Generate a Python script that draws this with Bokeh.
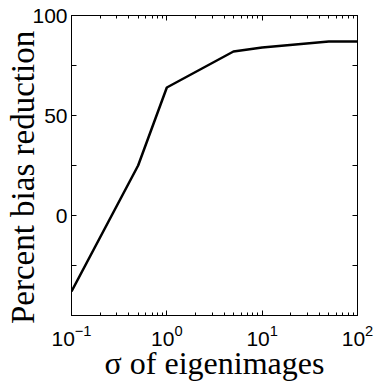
from bokeh.plotting import figure
from bokeh.models import LinearAxis, LogAxis, FixedTicker, Range1d
from bokeh.embed import file_html
from bokeh.resources import INLINE

# Bias reduction versus the sigma of the eigenimages
sigma = [0.1, 0.5, 1.0, 5.0, 10.0, 50.0, 100.0]
bias_reduction = [-38, 25, 64, 82, 84, 87, 87]

x_ticks = [0.1, 1, 10, 100]
x_minor = [v * m for v in [0.1, 1, 10] for m in range(2, 10)]
y_ticks = [-50, -25, 0, 25, 50, 75, 100]
y_tick_labels = {-50: "", -25: "", 0: "0", 25: "", 50: "50", 75: "", 100: "100"}

x_title = "\u03c3 of eigenimages"
# a trailing blank cell nudges the centred title towards the bottom of the axis
y_title = "Percent bias reduction\u2800"

p = figure(width=376, height=385, x_axis_type="log",
           x_range=Range1d(0.1, 100), y_range=Range1d(-50, 100),
           output_backend="svg", toolbar_location=None,
           min_border_left=71, min_border_right=19,
           min_border_top=15, min_border_bottom=70)

p.line(sigma, bias_reduction, line_color="black", line_width=2.5)

p.grid.visible = False
p.outline_line_color = "black"
p.outline_line_width = 1
p.background_fill_color = "white"
p.border_fill_color = "white"

label_font = "Liberation Sans"
title_font = "Liberation Serif"


def style_axis(ax, labels=True):
    ax.axis_line_color = "black"
    ax.major_tick_in = 5
    ax.major_tick_out = 0
    ax.minor_tick_in = 3
    ax.minor_tick_out = 0
    ax.major_tick_line_color = "black"
    ax.minor_tick_line_color = "black"
    ax.major_label_text_font = label_font
    ax.major_label_text_font_size = "21px"
    ax.major_label_text_color = "black"
    if not labels:
        ax.major_label_text_font_size = "0px"
        ax.major_label_standoff = 0


xa = p.xaxis[0]
style_axis(xa)
xa.ticker = FixedTicker(ticks=x_ticks, minor_ticks=x_minor)
xa.major_label_standoff = 9
xa.axis_label = x_title
xa.axis_label_text_font = title_font
xa.axis_label_text_font_size = "32px"
xa.axis_label_text_font_style = "normal"
xa.axis_label_text_color = "black"
xa.axis_label_standoff = -4

ya = p.yaxis[0]
style_axis(ya)
ya.ticker = FixedTicker(ticks=y_ticks, minor_ticks=[])
ya.major_label_overrides = y_tick_labels
ya.major_label_standoff = 4
ya.axis_label = y_title
ya.axis_label_text_font = title_font
ya.axis_label_text_font_size = "33px"
ya.axis_label_text_font_style = "normal"
ya.axis_label_text_color = "black"
ya.axis_label_standoff = -12

# mirrored ticks on the top and right frame edges
top = LogAxis(ticker=FixedTicker(ticks=x_ticks, minor_ticks=x_minor))
style_axis(top, labels=False)
top.major_label_overrides = {t: "" for t in x_ticks}
p.add_layout(top, "above")

right = LinearAxis(ticker=FixedTicker(ticks=y_ticks, minor_ticks=[]))
style_axis(right, labels=False)
right.major_label_overrides = {t: "" for t in y_ticks}
p.add_layout(right, "right")

open("out.html", "w").write(file_html(p, INLINE))
